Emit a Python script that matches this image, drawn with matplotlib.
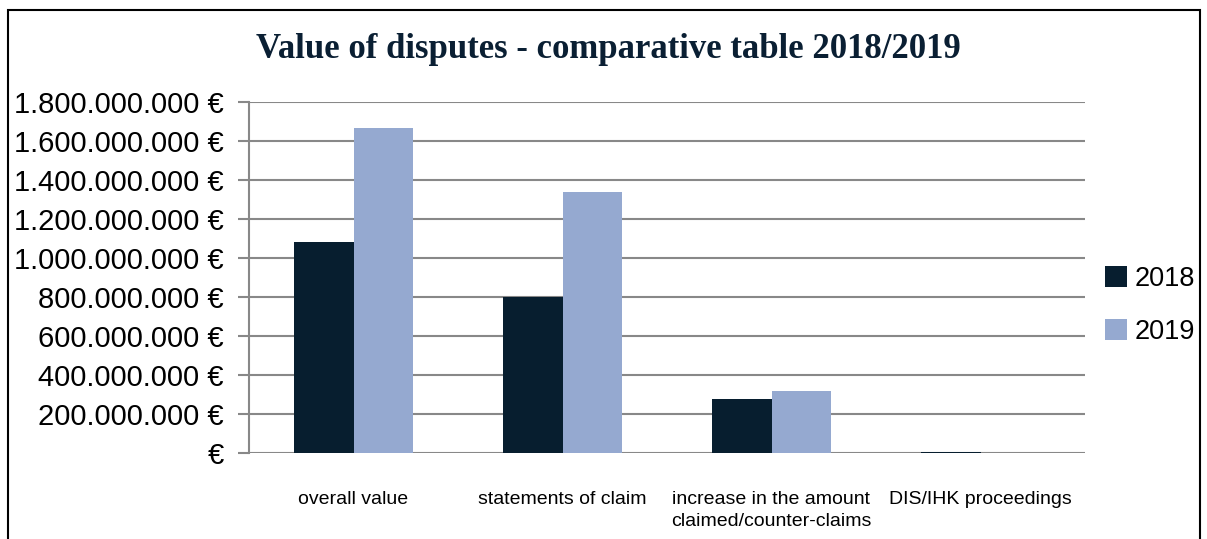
import numpy as np
import matplotlib.pyplot as plt
from matplotlib.patches import Rectangle

categories = ["overall value", "statements of claim",
              "increase in the amount\nclaimed/counter-claims", "DIS/IHK proceedings"]
years = ["2018", "2019"]
values_2018 = [1082e6, 800e6, 277e6, 3e6]
values_2019 = [1667e6, 1338e6, 318e6, 2e6]
yticks = np.arange(0, 1.8e9 + 1, 2e8)

col_2018 = "#071e2f"
col_2019 = "#95a9d0"

def euro(v, pos=None):
    if v == 0:
        return "€"
    return "{:,.0f} €".format(v).replace(",", ".")

plt.rcParams['font.family'] = ['Liberation Sans', 'DejaVu Sans']

fig = plt.figure(figsize=(12.07, 5.39), dpi=100)
ax = fig.add_axes([249 / 1207, 1 - 453 / 539, 836 / 1207, 351 / 539])

x = np.arange(len(categories))
w = 0.287
ax.bar(x - w / 2, values_2018, w, color=col_2018, label=years[0], zorder=3)
ax.bar(x + w / 2, values_2019, w, color=col_2019, label=years[1], zorder=3)

ax.set_xlim(-0.5, len(categories) - 0.5)
ax.set_ylim(0, 1.8e9)
ax.set_yticks(yticks)
ax.yaxis.set_major_formatter(plt.FuncFormatter(euro))
ax.tick_params(axis='y', labelsize=21, length=8, width=1.5, color='#888888', pad=10)
ax.grid(axis='y', color='#888888', lw=1.5, zorder=0)
ax.set_xticks(x)
ax.set_xticklabels(categories, fontsize=14, linespacing=1.45)
ax.tick_params(axis='x', length=0, pad=27)
for s in ['top', 'right', 'bottom']:
    ax.spines[s].set_visible(False)
ax.spines['left'].set_color('#888888')
ax.spines['left'].set_linewidth(1.5)

leg = ax.legend(loc='center left', bbox_to_anchor=(0.995, 0.42), frameon=False,
                fontsize=19.5, handlelength=0.8, handleheight=0.8, handletextpad=0.3,
                labelspacing=1.0)

fig.text(0.504, 1 - 50 / 539, "Value of disputes - comparative table 2018/2019",
         ha='center', va='center', fontsize=25, color='#0a1f33',
         family=['Liberation Serif', 'DejaVu Serif'], weight='bold')

fig.patches.append(Rectangle((8 / 1207, -0.05), 1192 / 1207, 1.05 - 10 / 539,
                             transform=fig.transFigure, fill=False,
                             edgecolor='black', lw=1.5))

fig.savefig("out.png", dpi=100)
